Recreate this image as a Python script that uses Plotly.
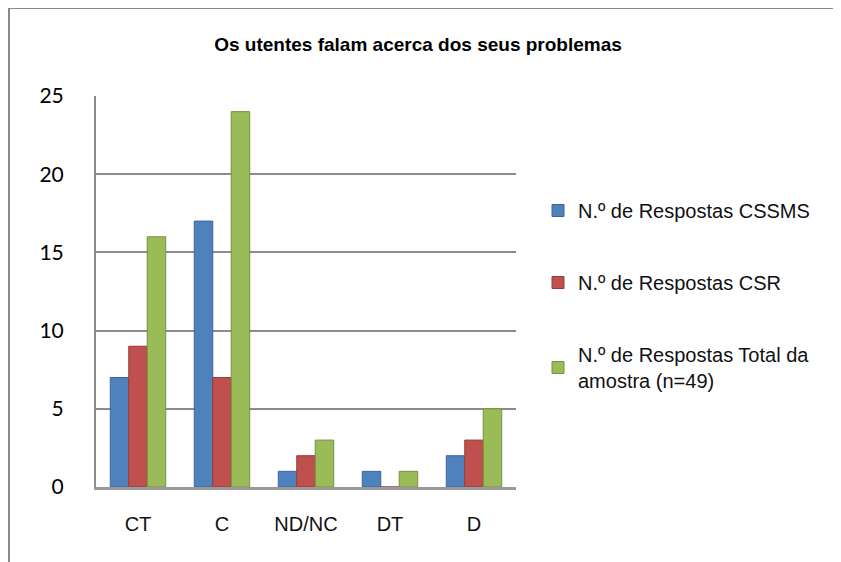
import plotly.graph_objects as go

categories = ["CT", "C", "ND/NC", "DT", "D"]
series_names = [
    "N.º de Respostas CSSMS",
    "N.º de Respostas CSR",
    "N.º de Respostas Total da<br>amostra (n=49)",
]
cssms = [7, 17, 1, 1, 2]
csr = [9, 7, 2, 0, 3]
total = [16, 24, 3, 1, 5]
y_ticks = [0, 5, 10, 15, 20, 25]

colors = ["#4F81BD", "#C0504D", "#9BBB59"]
edges = ["#3A6596", "#963B39", "#77913F"]

OFF = 8  # page body margin
W, H = 841 - OFF, 562 - OFF
L, R, T, B = 96 - OFF, 325, 96 - OFF, 75
pw, ph = W - L - R, H - T - B

def px_x(p):
    # p is a page x pixel
    return (p - OFF - L) / pw

def px_y(p):
    # p is a page y pixel
    return (H - B - (p - OFF)) / ph

fig = go.Figure()
for name, vals, c, e, g in zip(series_names, [cssms, csr, total], colors, edges, ["a", "b", "c"]):
    fig.add_trace(go.Bar(
        x=categories, y=vals, name=name,
        marker=dict(color=c, line=dict(color=e, width=1)),
        legendgroup=g,
    ))

fig.update_layout(
    width=W, height=H,
    margin=dict(l=L, r=R, t=T, b=B),
    paper_bgcolor="white", plot_bgcolor="white",
    barmode="group", bargap=0.34, bargroupgap=0,
    title=dict(text="<b>Os utentes falam acerca dos seus problemas</b>",
               x=px_x(418), xref="paper", xanchor="center",
               y=1 - (44 - OFF) / H, yanchor="middle",
               font=dict(family="Liberation Sans, Arial", size=19, color="#000")),
    font=dict(family="Liberation Sans, Arial", color="#000"),
    legend=dict(x=px_x(538), y=px_y(191), xanchor="left", yanchor="top",
                font=dict(family="Liberation Sans, Arial", size=20, color="#111"),
                tracegroupgap=43, bgcolor="rgba(0,0,0,0)"),
    xaxis=dict(showgrid=False, showline=True, linecolor="#999", linewidth=3,
               tickfont=dict(family="Liberation Sans, Arial", size=20, color="#111"),
               ticks="", ticklabelstandoff=17),
    yaxis=dict(range=[0, 25], tickvals=y_ticks, showgrid=True, gridcolor="#8C8C8C",
               gridwidth=2, showline=True, linecolor="#8C8C8C", linewidth=2,
               zeroline=False, ticks="", ticklabelstandoff=26,
               tickfont=dict(family="Lato, Open Sans", size=21, color="#000")),
    showlegend=True,
)

# outer frame (top and left edges)
fig.add_shape(type="line", xref="paper", yref="paper",
              x0=px_x(9), x1=px_x(850), y0=px_y(8), y1=px_y(8),
              line=dict(color="#8A8A8A", width=2))
fig.add_shape(type="line", xref="paper", yref="paper",
              x0=px_x(9), x1=px_x(9), y0=px_y(8), y1=px_y(570),
              line=dict(color="#8A8A8A", width=2))

fig.write_html("out.html")
